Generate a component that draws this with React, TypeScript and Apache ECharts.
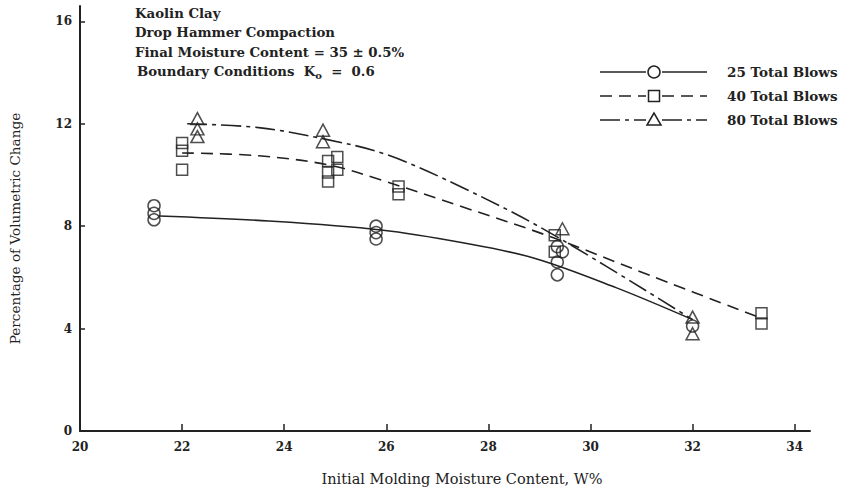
import React, { useEffect, useRef } from "react";
import * as echarts from "echarts";

const xTicks = [20, 22, 24, 26, 28, 30, 32, 34];
const yTicks = [0, 4, 8, 12, 16];

const seriesNames = ["25 Total Blows", "40 Total Blows", "80 Total Blows"];

// measured points
const blows25Points: number[][] = [
  [21.45, 8.8], [21.45, 8.5], [21.45, 8.25],
  [25.8, 8.0], [25.8, 7.75], [25.8, 7.5],
  [29.35, 7.2], [29.45, 7.0], [29.35, 6.6], [29.35, 6.1],
  [32.0, 4.1],
];
const blows40Points: number[][] = [
  [22.0, 11.25], [22.0, 10.95], [22.0, 10.2],
  [24.86, 10.55], [25.04, 10.7], [24.86, 10.1], [25.04, 10.2], [24.86, 9.75],
  [26.24, 9.55], [26.24, 9.25],
  [29.3, 7.65], [29.3, 7.0],
  [33.35, 4.6], [33.35, 4.2],
];
const blows80Points: number[][] = [
  [22.3, 12.2], [22.3, 11.8], [22.3, 11.5],
  [24.76, 11.75], [24.76, 11.3],
  [29.45, 7.9],
  [32.0, 4.45], [32.0, 3.8],
];

// fitted curves
const blows25Curve: number[][] = [
  [21.55, 8.4], [23.7, 8.2], [25.9, 7.85], [27.5, 7.35], [28.9, 6.75], [30.5, 5.6], [32.0, 4.35],
];
const blows40Curve: number[][] = [
  [22.0, 10.86], [23.5, 10.75], [24.9, 10.38], [25.9, 9.8], [27.5, 8.75], [29.2, 7.6], [31.2, 6.05], [33.35, 4.4],
];
const blows80Curve: number[][] = [
  [22.1, 12.0], [23.5, 11.85], [24.8, 11.4], [26.0, 10.8], [27.5, 9.5], [29.2, 7.75], [32.0, 4.35],
];

const INK = "#222";
const SERIF = "'DejaVu Serif', serif";

export default function App() {
  const ref = useRef<HTMLDivElement>(null);
  useEffect(() => {
    if (!ref.current) return;
    const chart = echarts.init(ref.current, undefined, { renderer: "svg" });
    const markerStyle = { color: "rgba(255,255,255,0)", borderColor: INK, borderWidth: 1.5 };
    const curve = (name: string, data: number[][], type: any) => ({
      name,
      type: "line",
      data,
      smooth: 0.35,
      showSymbol: false,
      symbol: "none",
      silent: true,
      lineStyle: { color: INK, width: 1.6, type },
      z: 2,
    });
    const pts = (name: string, data: number[][], symbol: string, size: any) => ({
      name,
      type: "scatter",
      data,
      symbol,
      symbolSize: size,
      itemStyle: markerStyle,
      z: 3,
    });

    const legendRows = [72, 96, 120];
    const lx1 = 600, lx2 = 707, lmid = 654;
    const dashes = [null, [12, 7], [20, 5, 4, 5]];
    const legendGraphics: any[] = [];
    legendRows.forEach((y, i) => {
      const lineStyle: any = { stroke: INK, lineWidth: 1.6 };
      if (dashes[i]) lineStyle.lineDash = dashes[i];
      legendGraphics.push({ type: "line", shape: { x1: lx1, y1: y, x2: lmid - 8, y2: y }, style: lineStyle });
      legendGraphics.push({ type: "line", shape: { x1: lmid + 8, y1: y, x2: lx2, y2: y }, style: lineStyle });
      if (i === 0) {
        legendGraphics.push({ type: "circle", shape: { cx: lmid, cy: y, r: 6 }, style: { fill: "#fff", stroke: INK, lineWidth: 1.5 } });
      } else if (i === 1) {
        legendGraphics.push({ type: "rect", shape: { x: lmid - 5.5, y: y - 5.5, width: 11, height: 11 }, style: { fill: "#fff", stroke: INK, lineWidth: 1.5 } });
      } else {
        legendGraphics.push({ type: "polygon", shape: { points: [[lmid, y - 7], [lmid - 7, y + 5], [lmid + 7, y + 5]] }, style: { fill: "#fff", stroke: INK, lineWidth: 1.5 } });
      }
      legendGraphics.push({
        type: "text", x: 727, y,
        style: { text: seriesNames[i], fill: INK, font: `bold 13.5px ${SERIF}`, verticalAlign: "middle" },
      });
    });

    const noteLines = [
      "Kaolin Clay",
      "Drop Hammer Compaction",
      "Final Moisture Content = 35 ± 0.5%",
    ];
    const noteGraphics: any[] = noteLines.map((t, i) => ({
      type: "text", x: 135, y: 13 + i * 19.5,
      style: { text: t, fill: INK, font: `bold 13.3px ${SERIF}`, verticalAlign: "middle" },
    }));
    noteGraphics.push({
      type: "text", x: 137, y: 71,
      style: {
        text: "Boundary Conditions  K{sub|o}  =  0.6",
        fill: INK, font: `bold 13.3px ${SERIF}`, verticalAlign: "middle",
        rich: { sub: { fontSize: 10, fontWeight: "bold", fontFamily: "DejaVu Serif", fill: INK, padding: [8, 0, 0, 0] } },
      },
    });

    chart.setOption({
      animation: false,
      backgroundColor: "#fff",
      grid: { left: 80, right: 31, top: 6, bottom: 63, containLabel: false },
      xAxis: {
        type: "value",
        min: 20,
        max: 34.3,
        name: "Initial Molding Moisture Content, W%",
        nameLocation: "middle",
        nameGap: 40,
        nameTextStyle: { color: INK, fontFamily: SERIF, fontSize: 14.5, padding: [0, 0, 0, 34] },
        axisLine: { lineStyle: { color: INK, width: 2 } },
        axisTick: { show: true, inside: true, length: 7, customValues: xTicks, lineStyle: { color: INK, width: 1.5 } },
        axisLabel: { customValues: xTicks, color: INK, fontFamily: SERIF, fontWeight: "bold", fontSize: 12, margin: 10 },
        splitLine: { show: false },
      },
      yAxis: {
        type: "value",
        min: 0,
        max: 16.6,
        name: "Percentage of Volumetric Change",
        nameLocation: "middle",
        nameGap: 58,
        nameTextStyle: { color: INK, fontFamily: SERIF, fontSize: 13.6, padding: [0, 20, 0, 0] },
        axisLine: { show: true, lineStyle: { color: INK, width: 2 } },
        axisTick: { show: true, inside: true, length: 5, customValues: yTicks, lineStyle: { color: INK, width: 1.5 } },
        axisLabel: { customValues: yTicks, color: INK, fontFamily: SERIF, fontWeight: "bold", fontSize: 12, margin: 8 },
        splitLine: { show: false },
      },
      graphic: [...noteGraphics, ...legendGraphics],
      series: [
        curve(seriesNames[0], blows25Curve, "solid"),
        curve(seriesNames[1], blows40Curve, [12, 7]),
        curve(seriesNames[2], blows80Curve, [20, 5, 4, 5]),
        pts(seriesNames[0], blows25Points, "circle", 12),
        pts(seriesNames[1], blows40Points, "rect", 11),
        pts(seriesNames[2], blows80Points, "triangle", [13, 12]),
      ],
    });
    return () => chart.dispose();
  }, []);
  return <div ref={ref} style={{ width: 841, height: 494, position: "absolute", left: 0, top: 0 }} />;
}
